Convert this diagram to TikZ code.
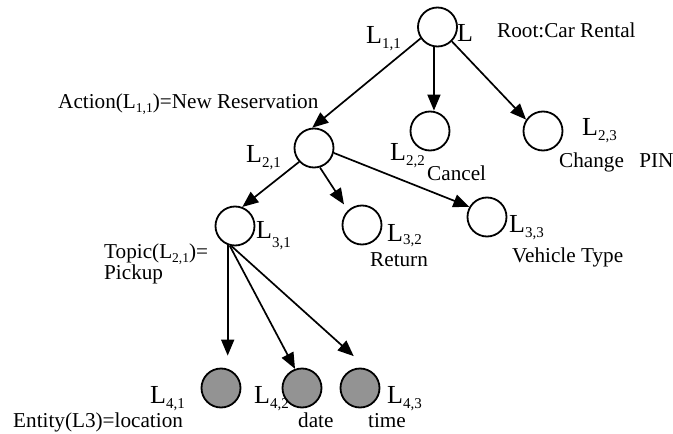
\documentclass[tikz,border=0pt]{standalone}
\usepackage{fontspec}
\setmainfont{Liberation Serif}
\usetikzlibrary{arrows.meta}

% level label with a lowered index, e.g. \lvl{L}{2,1}
\newcommand{\lvl}[2]{{\fontsize{26}{26}\selectfont #1}\raisebox{-5pt}{\fontsize{15}{15}\selectfont #2}}
% the same inside running text
\newcommand{\lvlin}[2]{#1\raisebox{-4pt}{\fontsize{13.5}{13.5}\selectfont #2}}

\tikzset{
  state/.style={circle,draw,line width=1.8pt,minimum size=39pt,inner sep=0pt},
  leaf/.style={state,fill=gray!85!white},
  lbl/.style={anchor=base west,inner sep=0pt,font=\fontsize{21.2}{23}\selectfont},
  arr/.style={line width=1.7pt,-{Triangle[length=16pt,width=13pt]}}
}

\begin{document}
\begin{tikzpicture}[x=1pt,y=-1pt]
	\useasboundingbox (0,0) rectangle (673,434);
	% the states
	\node[state] (root) at (437.5,27) {};
	\node[state] (l21) at (314,148) {};
	\node[state] (l22) at (430,131) {};
	\node[state] (l23) at (543,131) {};
	\node[state] (l31) at (235,226) {};
	\node[state] (l32) at (362,225) {};
	\node[state] (l33) at (487,217) {};
	\node[leaf] (l41) at (221,388) {};
	\node[leaf] (l42) at (302,388) {};
	\node[leaf] (l43) at (360,388) {};
	% edges of the tree
	\draw[arr] (root.214) -- (l21.95);
	\draw[arr] (root.260) -- (root.260 |- l22.north);
	\draw[arr] (root.-45) -- (l23.146);
	\draw[arr] (l21.223) -- (l31.69);
	\draw[arr,shorten >=7pt] (l21.287) -- (l32.134);
	\draw[arr] (l21.346) -- (l33.150);
	\draw[arr,shorten >=12pt] (l31.249) -- (l31.249 |- l41.north);
	\draw[arr] (l31.255) -- (l42.110);
	\draw[arr,shorten >=20pt] (l31.260) -- (l43.65);
	% labels
	\node[lbl] (t11) at (366,43) {\lvl{L}{1,1}};
	\node[lbl] (troot) at (457,41) {\fontsize{26}{26}\selectfont L};
	\node[lbl] (tcar) at (497,37) {Root:Car Rental};
	\node[lbl] (tact) at (58,108) {Action(\lvlin{L}{1,1})=New Reservation};
	\node[lbl] (t21) at (246,162) {\lvl{L}{2,1}};
	\node[lbl] (t22) at (390,160) {\lvl{L}{2,2}};
	\node[lbl] (tcan) at (427,180) {Cancel};
	\node[lbl] (t23) at (582,135) {\lvl{L}{2,3}};
	\node[lbl] (tpin) at (559,167) {Change\hspace{10pt} PIN};
	\node[lbl] (t31) at (256,238) {{\fontsize{26}{26}\selectfont L}\raisebox{-9pt}{\fontsize{15}{15}\selectfont 3,1}};
	\node[lbl] (t32) at (387,241) {{\fontsize{26}{26}\selectfont L}\raisebox{-3pt}{\fontsize{15}{15}\selectfont 3,2}};
	\node[lbl] (tret) at (370,266) {Return};
	\node[lbl] (t33) at (509,232) {\lvl{L}{3,3}};
	\node[lbl] (tveh) at (512,262) {Vehicle Type};
	\node[lbl,align=left] (ttop) at (104,279) {Topic(\lvlin{L}{2,1})=\\[-2pt]Pickup};
	\node[lbl] (t41) at (150,403) {\lvl{L}{4,1}};
	\node[lbl] (t42) at (254,403) {\lvl{L}{4,2}};
	\node[lbl] (t43) at (387,403) {\lvl{L}{4,3}};
	\node[lbl] (tent) at (13,427) {Entity(L3)=location};
	\node[lbl] (tdate) at (298,427) {date};
	\node[lbl] (ttime) at (368,427) {time};
\end{tikzpicture}
\end{document}
